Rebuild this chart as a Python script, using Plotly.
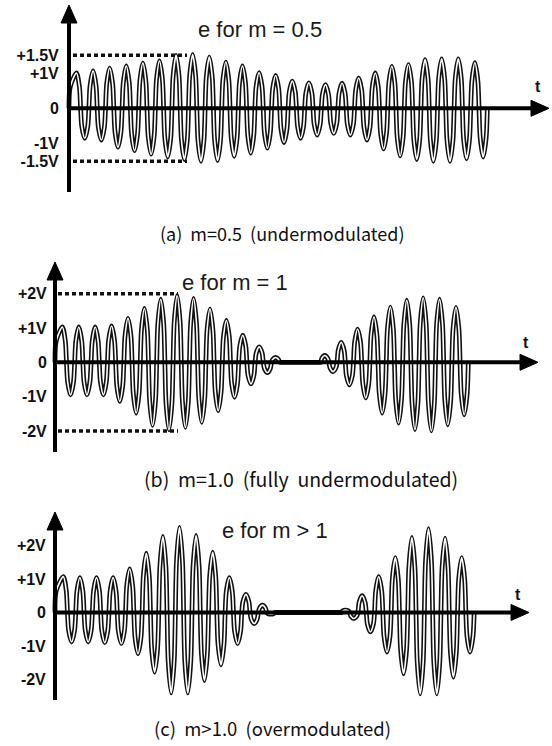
import plotly.graph_objects as go

W, H = 552, 746

# ---------------- data ----------------
# peak / trough voltage of each carrier cycle, panel (a) m = 0.5
a_peaks = [1.0, 1.06, 1.14, 1.2, 1.28, 1.34, 1.5, 1.52, 1.45, 1.31, 1.2, 1.01, 0.93,
           0.77, 0.72, 0.67, 0.71, 0.86, 1.0, 1.19, 1.24, 1.38, 1.40, 1.40, 1.29]
a_troughs = [-0.85, -0.9, -1.1, -1.2, -1.3, -1.38, -1.45, -1.5, -1.48, -1.36, -1.27, -1.13,
             -0.97, -0.85, -0.76, -0.71, -0.76, -0.9, -1.15, -1.35, -1.45, -1.5, -1.5, -1.43, -1.38]
# panel (b) m = 1
b_peaks = [1.03, 1.03, 1.03, 1.06, 1.28, 1.57, 1.84, 1.95, 1.86, 1.55, 1.22, 0.79, 0.45,
           0.14, 0, 0, 0.2, 0.58, 0.97, 1.32, 1.61, 1.81, 1.88, 1.84, 1.6]
b_troughs = [-0.95, -0.95, -0.95, -1.14, -1.48, -1.84, -1.97, -1.9, -1.75, -1.41, -1.02, -0.63,
             -0.3, 0, 0, 0, -0.27, -0.66, -1.04, -1.48, -1.77, -1.96, -2.0, -1.82, -1.53]
# panel (c) m > 1
c_peaks = [1.07, 1.04, 1.04, 1.04, 1.3, 1.77, 2.27, 2.54, 2.3, 1.8, 1.04, 0.54, 0.22,
           0, 0, 0, 0, 0.07, 0.5, 1.07, 1.64, 2.24, 2.5, 2.22, 1.64]
c_troughs = [-0.88, -0.88, -0.9, -0.93, -1.23, -1.78, -2.4, -2.4, -2.03, -1.56, -0.93, -0.33,
             -0.05, 0, 0, 0, 0, -0.18, -0.58, -1.18, -1.83, -2.43, -2.43, -1.93, -1.18]

a_tickvals = [1.5, 1, 0, -1, -1.5]
a_ticktext = ["+1.5V", "+1V", "0", "-1V", "-1.5V"]
b_tickvals = [2, 1, 0, -1, -2]
b_ticktext = ["+2V", "+1V", "0", "-1V", "-2V"]
c_tickvals = [2, 1, 0, -1, -2]
c_ticktext = ["+2V", "+1V", "0", "-1V", "-2V"]

a_dotted = [1.5, -1.5]
b_dotted = [2, -2]
c_dotted = []

titles = ["e for m = 0.5", "e for m = 1", "e for m > 1"]
captions = ["(a)&nbsp; m=0.5&nbsp; (undermodulated)",
            "(b)&nbsp; m=1.0&nbsp; (fully&nbsp; undermodulated)",
            "(c)&nbsp; m>1.0&nbsp; (overmodulated)"]

# ---------------- layout / style per panel (pixels) ----------------
panels = [
    dict(peaks=a_peaks, troughs=a_troughs, tv=a_tickvals, tt=a_ticktext, dots=a_dotted,
         ax=69, zero=108.3, vpx=35.3, cpx=16.6, band=(0, 250), po=0.45, to=0.95,
         vtop=5, vbot=192, htip=549, tlab=(538, 86), title=(260, 29), cap=(282, 233),
         capsize=18, dotx=(73, 187), ticklen=7),
    dict(peaks=b_peaks, troughs=b_troughs, tv=b_tickvals, tt=b_ticktext, dots=b_dotted,
         ax=55, zero=362.3, vpx=34.3, cpx=16.4, band=(250, 496), po=0.45, to=0.95,
         vtop=262, vbot=452, htip=538, tlab=(526, 342), title=(235, 283), cap=(301, 478),
         capsize=19.5, dotx=(58, 178), ticklen=5),
    dict(peaks=c_peaks, troughs=c_troughs, tv=c_tickvals, tt=c_ticktext, dots=c_dotted,
         ax=55, zero=612.5, vpx=33.5, cpx=16.6, band=(496, 746), po=0.5, to=1.0,
         vtop=512, vbot=700, htip=529, tlab=(518, 594), title=(275, 530), cap=(272, 728),
         capsize=18.5, dotx=None, ticklen=6),
]

AXIS_W = 4
ARROW_L = 18
ARROW_HW = 8
EDGE = 0.07     # how close to a zero crossing the lobe already reaches 60 % of its height
EDGE_FRAC = 0.6

fig = go.Figure()
shapes = []
annotations = []
layout_axes = {}


def wave(peaks, troughs, po, to):
    """Square-ish carrier: each half-cycle lobe passes through its read peak/trough."""
    t, v = [0.0], [0.0]
    for k, (p, q) in enumerate(zip(peaks, troughs)):
        tp, tq = k + po, k + to
        z0 = 0.0 if k == 0 else tp - 0.25
        z1 = (tp + tq) / 2
        z2 = tq + 0.25
        if k == 0:
            t += [min(EDGE, tp / 3), tp, z1 - EDGE]
        else:
            t += [z0 + EDGE, tp, z1 - EDGE]
        v += [EDGE_FRAC * p, p, EDGE_FRAC * p]
        t += [z1, z1 + EDGE, tq, z2 - EDGE, z2]
        v += [0.0, EDGE_FRAC * q, q, EDGE_FRAC * q, 0.0]
    return t, v


for i, P in enumerate(panels):
    n = "" if i == 0 else str(i + 1)
    xa, ya = "x" + n, "y" + n
    top, bot = P["band"]
    # data ranges so that t=0 sits on the vertical axis and V=0 on the horizontal one
    xr = [-P["ax"] / P["cpx"], (W - P["ax"]) / P["cpx"]]
    yr = [(P["zero"] - bot) / P["vpx"], (P["zero"] - top) / P["vpx"]]

    def tx(px, P=P):
        return (px - P["ax"]) / P["cpx"]

    def vy(py, P=P):
        return (P["zero"] - py) / P["vpx"]

    t, v = wave(P["peaks"], P["troughs"], P["po"], P["to"])
    fig.add_trace(go.Scatter(x=t, y=v, mode="lines", xaxis=xa, yaxis=ya,
                             line=dict(color="#111111", width=4.8, shape="spline", smoothing=0.8),
                             hoverinfo="skip", showlegend=False))
    fig.add_trace(go.Scatter(x=t, y=v, mode="lines", xaxis=xa, yaxis=ya,
                             line=dict(color="#ffffff", width=1.6, shape="spline", smoothing=0.8),
                             hoverinfo="skip", showlegend=False))

    layout_axes["xaxis" + n] = dict(domain=[0, 1], range=xr, anchor=ya, visible=False,
                                    fixedrange=True)
    layout_axes["yaxis" + n] = dict(domain=[1 - bot / H, 1 - top / H], range=yr,
                                    anchor="free", position=P["ax"] / W, side="left",
                                    tickvals=P["tv"], ticktext=P["tt"],
                                    ticks="outside", ticklen=P["ticklen"],
                                    tickcolor="rgba(0,0,0,0)",
                                    tickfont=dict(family="Liberation Sans, Arial", size=16,
                                                  color="#111111", weight="bold"),
                                    showgrid=False, zeroline=False, showline=False,
                                    fixedrange=True)

    # dotted reference levels
    if P["dotx"]:
        for lv in P["dots"]:
            shapes.append(dict(type="line", xref=xa, yref=ya, x0=tx(P["dotx"][0]),
                               x1=tx(P["dotx"][1]), y0=lv, y1=lv, layer="above",
                               line=dict(color="#111111", width=3.5, dash="4px,3px")))

    # vertical axis with arrow
    shapes.append(dict(type="line", xref=xa, yref=ya, x0=0, x1=0,
                       y0=vy(P["vbot"]), y1=vy(P["vtop"] + ARROW_L - 2), layer="above",
                       line=dict(color="#000000", width=AXIS_W)))
    shapes.append(dict(type="path", xref=xa, yref=ya, layer="above",
                       path=f"M {tx(P['ax'] - ARROW_HW)} {vy(P['vtop'] + ARROW_L)} "
                            f"L {tx(P['ax'])} {vy(P['vtop'])} "
                            f"L {tx(P['ax'] + ARROW_HW)} {vy(P['vtop'] + ARROW_L)} Z",
                       fillcolor="#000000", line=dict(color="#000000", width=1)))
    # horizontal axis with arrow
    shapes.append(dict(type="line", xref=xa, yref=ya, x0=tx(P["ax"] - 2),
                       x1=tx(P["htip"] - ARROW_L + 2), y0=0, y1=0, layer="above",
                       line=dict(color="#000000", width=AXIS_W)))
    shapes.append(dict(type="path", xref=xa, yref=ya, layer="above",
                       path=f"M {tx(P['htip'] - ARROW_L)} {vy(P['zero'] - ARROW_HW)} "
                            f"L {tx(P['htip'])} 0 "
                            f"L {tx(P['htip'] - ARROW_L)} {vy(P['zero'] + ARROW_HW)} Z",
                       fillcolor="#000000", line=dict(color="#000000", width=1)))

    # 't' label
    annotations.append(dict(x=tx(P["tlab"][0]), y=vy(P["tlab"][1]), xref=xa, yref=ya,
                            xanchor="center", yanchor="middle",
                            text="t", showarrow=False,
                            font=dict(family="Liberation Sans, Arial", size=16,
                                      color="#111111", weight="bold")))
    # title
    annotations.append(dict(x=P["title"][0] / W, y=1 - P["title"][1] / H, xref="paper",
                            yref="paper", xanchor="center", yanchor="middle",
                            text=titles[i], showarrow=False,
                            font=dict(family="Liberation Sans, Arial", size=22,
                                      color="#1a1a1a")))
    # caption
    annotations.append(dict(x=P["cap"][0] / W, y=1 - P["cap"][1] / H, xref="paper",
                            yref="paper", xanchor="center", yanchor="middle",
                            text=captions[i], showarrow=False,
                            font=dict(family="Noto Sans CJK KR, Noto Sans, sans-serif",
                                      size=P["capsize"], color="#111111")))

fig.update_layout(width=W, height=H, margin=dict(l=0, r=0, t=0, b=0),
                  paper_bgcolor="white", plot_bgcolor="rgba(0,0,0,0)",
                  shapes=shapes, annotations=annotations, showlegend=False,
                  **layout_axes)

fig.write_html("out.html", config={"displayModeBar": False})
